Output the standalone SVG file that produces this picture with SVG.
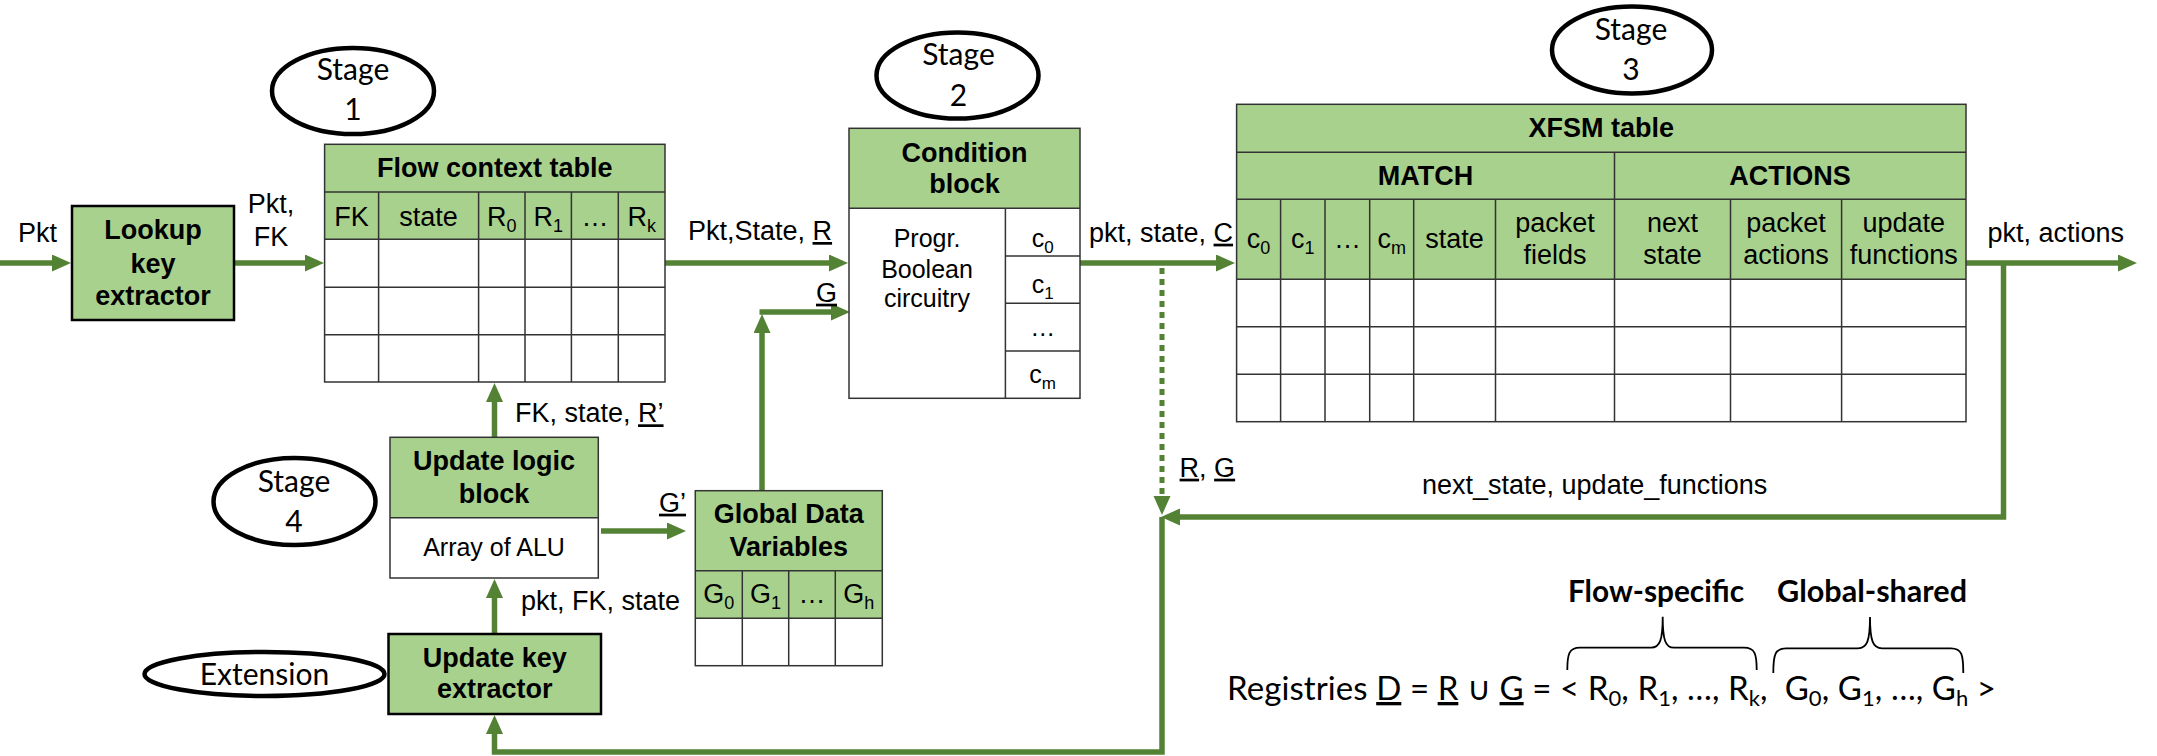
<svg xmlns="http://www.w3.org/2000/svg" width="2157" height="756" viewBox="0 0 2157 756">
<defs>
<style>
.bg{fill:#fff}
.g{fill:#A9D18E}
.w{fill:#fff}
.grid{stroke:#333;stroke-width:1.5;fill:none}
.box{stroke:#000;stroke-width:2.5}
.conn{stroke:#548235;stroke-width:5.5;fill:none}
.dot{stroke:#548235;stroke-width:5;fill:none;stroke-dasharray:6 5}
.el{fill:#fff;stroke:#000;stroke-width:4.5}
.brace{fill:none;stroke:#000;stroke-width:1.8}
text{font-family:"Liberation Sans",Arial,sans-serif;font-size:27px;fill:#000}
.b{font-weight:bold}
.m{text-anchor:middle}
.cal{font-family:Lato,"Liberation Sans",sans-serif;font-size:30px}
.s{font-size:25px}
.u{text-decoration:underline}
</style>
<marker id="ah" markerUnits="userSpaceOnUse" markerWidth="20" markerHeight="18" refX="1" refY="8.5" orient="auto">
<path d="M0,0 L19,8.5 L0,17 Z" fill="#548235"/>
</marker>
</defs>
<rect class="bg" x="0" y="0" width="2157" height="756"/>

<g id="connectors">
<line class="conn" x1="0" y1="263" x2="53" y2="263" marker-end="url(#ah)"/>
<line class="conn" x1="234" y1="263" x2="306" y2="263" marker-end="url(#ah)"/>
<line class="conn" x1="665" y1="263" x2="830" y2="263" marker-end="url(#ah)"/>
<line class="conn" x1="1080" y1="263" x2="1217" y2="263" marker-end="url(#ah)"/>
<line class="conn" x1="1966" y1="263" x2="2119" y2="263" marker-end="url(#ah)"/>
<polyline class="conn" points="2003.5,263 2003.5,517 1179,517" marker-end="url(#ah)"/>
<line class="dot" x1="1162" y1="268" x2="1162" y2="497" marker-end="url(#ah)"/>
<polyline class="conn" points="1162,517 1162,752 494.5,752 494.5,733" marker-end="url(#ah)"/>
<line class="conn" x1="494.5" y1="634" x2="494.5" y2="597" marker-end="url(#ah)"/>
<line class="conn" x1="494.5" y1="437" x2="494.5" y2="401" marker-end="url(#ah)"/>
<line class="conn" x1="601" y1="531" x2="668" y2="531" marker-end="url(#ah)"/>
<line class="conn" x1="762" y1="491" x2="762" y2="332" marker-end="url(#ah)"/>
<line class="conn" x1="759.5" y1="312" x2="832" y2="312" marker-end="url(#ah)"/>
</g>

<g id="labels">
<text x="18" y="242">Pkt</text>
<text class="m" x="271" y="212.7">Pkt,</text>
<text class="m" x="271" y="245.7">FK</text>
<text x="688" y="240">Pkt,State, <tspan class="u">R</tspan></text>
<text x="816" y="301.7" class="u">G</text>
<text x="1089" y="241.7">pkt, state, <tspan class="u">C</tspan></text>
<text x="1987.5" y="241.7">pkt, actions</text>
<text x="1179.6" y="476.7"><tspan class="u">R</tspan>, <tspan class="u">G</tspan></text>
<text x="1422" y="494">next_state, update_functions</text>
<text x="515" y="422.3">FK, state, <tspan class="u">R’</tspan></text>
<text x="659" y="511.7" class="u">G’</text>
<text x="521" y="610">pkt, FK, state</text>
</g>

<g id="stage1">
<ellipse class="el" cx="353" cy="91" rx="81" ry="43"/>
<text class="cal m" x="353" y="80">Stage</text>
<text class="cal m" x="353" y="120">1</text>
</g>
<g id="stage2">
<ellipse class="el" cx="957.5" cy="75.5" rx="81" ry="43"/>
<text class="cal m" x="958.5" y="65">Stage</text>
<text class="cal m" x="958.5" y="106">2</text>
</g>
<g id="stage3">
<ellipse class="el" cx="1632" cy="50" rx="80" ry="43.5"/>
<text class="cal m" x="1631" y="40">Stage</text>
<text class="cal m" x="1631" y="80">3</text>
</g>
<g id="stage4">
<ellipse class="el" cx="294.5" cy="501.5" rx="81" ry="43.5"/>
<text class="cal m" x="294" y="491.7">Stage</text>
<text class="cal m" x="294" y="531.7">4</text>
</g>
<g id="extension">
<ellipse class="el" cx="264.5" cy="674" rx="120" ry="22"/>
<text class="cal m" x="264.5" y="685">Extension</text>
</g>

<g id="lookup-key-extractor">
<rect class="g box" x="72" y="206" width="162" height="114"/>
<text class="b m" x="153" y="239.3">Lookup</text>
<text class="b m" x="153" y="272.7">key</text>
<text class="b m" x="153" y="305">extractor</text>
</g>

<g id="flow-context-table">
<rect class="g" x="324.6" y="144.3" width="340.4" height="95"/>
<rect class="w" x="324.6" y="239.3" width="340.4" height="142.7"/>
<rect class="grid" x="324.6" y="144.3" width="340.4" height="237.7"/>
<path class="grid" d="M324.6,192H665M324.6,239.3H665M324.6,287.3H665M324.6,334.7H665M378.6,192V382M478.6,192V382M525,192V382M571.4,192V382M618.3,192V382"/>
<text class="b m" x="494.8" y="177">Flow context table</text>
<text class="m" x="351.6" y="225.7">FK</text>
<text class="m" x="428.6" y="225.7">state</text>
<text class="m" x="501.8" y="225.7">R<tspan font-size="18" dy="6">0</tspan></text>
<text class="m" x="548.2" y="225.7">R<tspan font-size="18" dy="6">1</tspan></text>
<text class="m" x="594.9" y="225.7">…</text>
<text class="m" x="641.7" y="225.7">R<tspan font-size="18" dy="6">k</tspan></text>
</g>

<g id="condition-block">
<rect class="g" x="849" y="128.3" width="231" height="80"/>
<rect class="w" x="849" y="208.3" width="231" height="190"/>
<rect class="grid" x="849" y="128.3" width="231" height="270"/>
<path class="grid" d="M849,208.3H1080M1005.4,208.3V398.3M1005.4,256H1080M1005.4,303.3H1080M1005.4,351H1080"/>
<text class="b m" x="964.5" y="161.7">Condition</text>
<text class="b m" x="964.5" y="193.3">block</text>
<text class="s m" x="927" y="246.7">Progr.</text>
<text class="s m" x="927" y="278.3">Boolean</text>
<text class="s m" x="927" y="306.5">circuitry</text>
<text class="s m" x="1042.7" y="246.7">c<tspan font-size="17" dy="6">0</tspan></text>
<text class="s m" x="1042.7" y="293">c<tspan font-size="17" dy="6">1</tspan></text>
<text class="s m" x="1042.7" y="336">…</text>
<text class="s m" x="1042.7" y="383">c<tspan font-size="17" dy="6">m</tspan></text>
</g>

<g id="xfsm-table">
<rect class="g" x="1236.6" y="104.3" width="729.4" height="175"/>
<rect class="w" x="1236.6" y="279.3" width="729.4" height="142.4"/>
<rect class="grid" x="1236.6" y="104.3" width="729.4" height="317.4"/>
<path class="grid" d="M1236.6,152.3H1966M1236.6,199.3H1966M1236.6,279.3H1966M1236.6,326.7H1966M1236.6,374.3H1966M1614.5,152.3V421.7M1280.6,199.3V421.7M1325,199.3V421.7M1369.7,199.3V421.7M1413.7,199.3V421.7M1495.5,199.3V421.7M1730.5,199.3V421.7M1841.6,199.3V421.7"/>
<text class="b m" x="1601.3" y="136.7">XFSM table</text>
<text class="b m" x="1425.6" y="185">MATCH</text>
<text class="b m" x="1790" y="185">ACTIONS</text>
<text class="m" x="1258.6" y="247.5">c<tspan font-size="18" dy="6">0</tspan></text>
<text class="m" x="1302.8" y="247.5">c<tspan font-size="18" dy="6">1</tspan></text>
<text class="m" x="1347.4" y="247.5">…</text>
<text class="m" x="1391.7" y="247.5">c<tspan font-size="18" dy="6">m</tspan></text>
<text class="m" x="1454.6" y="247.5">state</text>
<text class="m" x="1555" y="231.7">packet</text>
<text class="m" x="1555" y="264.3">fields</text>
<text class="m" x="1672.5" y="231.7">next</text>
<text class="m" x="1672.5" y="264.3">state</text>
<text class="m" x="1786" y="231.7">packet</text>
<text class="m" x="1786" y="264.3">actions</text>
<text class="m" x="1903.8" y="231.7">update</text>
<text class="m" x="1903.8" y="264.3">functions</text>
</g>

<g id="update-logic-block">
<rect class="g" x="390" y="437.3" width="208.3" height="80.4"/>
<rect class="w" x="390" y="517.7" width="208.3" height="60.3"/>
<rect class="grid" x="390" y="437.3" width="208.3" height="140.7"/>
<path class="grid" d="M390,517.7H598.3"/>
<text class="b m" x="494" y="470">Update logic</text>
<text class="b m" x="494" y="502.7">block</text>
<text class="s m" x="494" y="556">Array of ALU</text>
</g>

<g id="global-data-variables">
<rect class="g" x="695.3" y="490.7" width="187" height="127.6"/>
<rect class="w" x="695.3" y="618.3" width="187" height="47.4"/>
<rect class="grid" x="695.3" y="490.7" width="187" height="175"/>
<path class="grid" d="M695.3,570.7H882.3M695.3,618.3H882.3M742.3,570.7V665.7M788.7,570.7V665.7M835.3,570.7V665.7"/>
<text class="b m" x="788.8" y="522.7">Global Data</text>
<text class="b m" x="788.8" y="556">Variables</text>
<text class="m" x="718.8" y="602.7">G<tspan font-size="18" dy="6">0</tspan></text>
<text class="m" x="765.5" y="602.7">G<tspan font-size="18" dy="6">1</tspan></text>
<text class="m" x="812" y="602.7">…</text>
<text class="m" x="858.8" y="602.7">G<tspan font-size="18" dy="6">h</tspan></text>
</g>

<g id="update-key-extractor">
<rect class="g box" x="388.5" y="634" width="212.5" height="80"/>
<text class="b m" x="494.7" y="666.7">Update key</text>
<text class="b m" x="494.7" y="698.3">extractor</text>
</g>

<g id="registries">
<text class="cal b" x="1568" y="601.7" textLength="176" lengthAdjust="spacingAndGlyphs">Flow-specific</text>
<text class="cal b" x="1777" y="601.7" textLength="190" lengthAdjust="spacingAndGlyphs">Global-shared</text>
<path class="brace" d="M1567.3,670 C1567.3,654 1569,647.7 1580,647.7 L1651,647.7 C1660,647.7 1662.7,640 1662.7,616.7 C1662.7,640 1665.4,647.7 1674,647.7 L1744,647.7 C1755,647.7 1756.7,654 1756.7,670"/>
<path class="brace" d="M1773.3,673 C1773.3,655 1775,648.3 1786,648.3 L1858,648.3 C1867,648.3 1870,641 1870,617 C1870,641 1873,648.3 1882,648.3 L1951,648.3 C1962,648.3 1963.3,655 1963.3,673"/>
<text class="cal" x="1227" y="700" style="font-size:33px" textLength="769">Registries <tspan class="u">D</tspan> = <tspan class="u">R</tspan> ∪ <tspan class="u">G</tspan> = &lt; R<tspan style="font-size:22px" dy="6">0</tspan><tspan dy="-6">, R</tspan><tspan style="font-size:22px" dy="6">1</tspan><tspan dy="-6">, …, R</tspan><tspan style="font-size:22px" dy="6">k</tspan><tspan dy="-6">,&#160; G</tspan><tspan style="font-size:22px" dy="6">0</tspan><tspan dy="-6">, G</tspan><tspan style="font-size:22px" dy="6">1</tspan><tspan dy="-6">, …, G</tspan><tspan style="font-size:22px" dy="6">h</tspan><tspan dy="-6"> &gt;</tspan></text>
</g>
</svg>
